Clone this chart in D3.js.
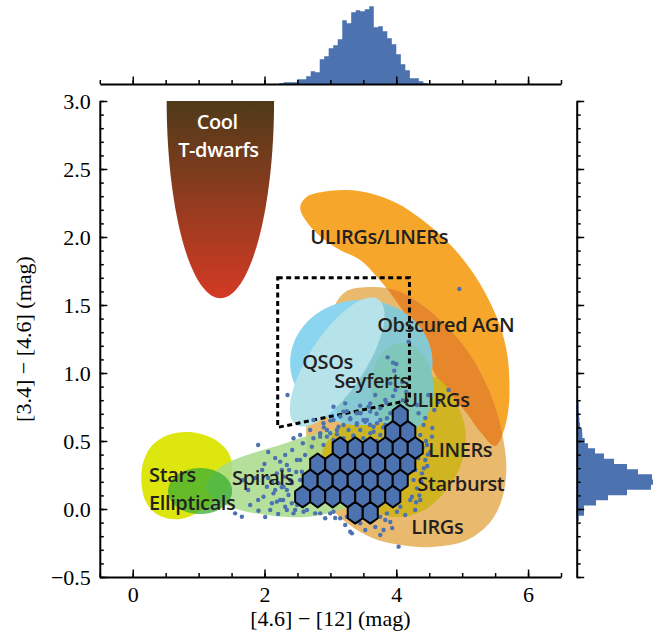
<!DOCTYPE html>
<html>
<head>
<meta charset="utf-8">
<script src="https://cdn.jsdelivr.net/npm/d3@7"></script>
<style>
  body { margin: 0; background: #fff; }
  .axis text { font-family: "Liberation Serif", "Times New Roman", serif; font-size: 22px; fill: #000; }
  .axis path, .axis line { stroke: #000; }
  .axis path { stroke-width: 2px; }
  .axis line { stroke-width: 1.5px; }
  .axis-title { font-family: "Liberation Serif", "Times New Roman", serif; font-size: 22px; fill: #000; }
  .region-label { font-family: "Open Sans", sans-serif; font-weight: 600; font-size: 20px; fill: #231f20; letter-spacing: -0.4px; }
</style>
</head>
<body>
<svg id="chart" width="668" height="638"></svg>
<script>
/////////////////////////////////////
///      DATA
/////////////////////////////////////

// tick values
var xMajor = [0, 2, 4, 6];
var yMajor = [-0.5, 0, 0.5, 1.0, 1.5, 2.0, 2.5, 3.0];

// marginal histogram of [4.6]-[12] (bin edges, counts)
var topBinEdges = [2.222, 2.290, 2.359, 2.427, 2.496, 2.564, 2.632, 2.701, 2.769, 2.838, 2.906, 2.974,
  3.043, 3.111, 3.180, 3.248, 3.316, 3.385, 3.453, 3.522, 3.590, 3.658, 3.727, 3.795, 3.864, 3.932,
  4.000, 4.069, 4.137, 4.206, 4.274, 4.342, 4.411, 4.479];
var topCounts = [2, 5, 5, 5, 14, 14, 23, 38, 35, 74, 83, 107, 116, 134, 191, 182, 215, 221, 218, 224,
  233, 170, 173, 158, 137, 119, 89, 59, 41, 17, 17, 8, 2];

// marginal histogram of [3.4]-[4.6]
var rightBinEdges = [-0.088, -0.050, -0.012, 0.026, 0.064, 0.102, 0.141, 0.179, 0.217, 0.255, 0.293,
  0.331, 0.369, 0.408, 0.446, 0.484, 0.522, 0.560, 0.598, 0.636, 0.674, 0.713, 0.751, 0.789];
var rightCounts = [6, 22, 22, 58, 94, 151, 223, 229, 226, 184, 151, 112, 82, 55, 34, 24, 17, 16, 10, 8, 7, 6, 6];

// filled hexbin cells (centres)
var hexCells = [
  [4.060, 0.686],
  [3.947, 0.567], [4.175, 0.567],
  [3.149, 0.448], [3.377, 0.448], [3.605, 0.448], [3.833, 0.448], [4.060, 0.448], [4.288, 0.448],
  [2.807, 0.329], [3.035, 0.329], [3.263, 0.329], [3.491, 0.329], [3.719, 0.329], [3.947, 0.329], [4.175, 0.329],
  [2.693, 0.210], [2.921, 0.210], [3.149, 0.210], [3.377, 0.210], [3.605, 0.210], [3.833, 0.210], [4.060, 0.210],
  [2.579, 0.091], [2.807, 0.091], [3.035, 0.091], [3.263, 0.091], [3.491, 0.091], [3.719, 0.091], [3.947, 0.091],
  [3.377, -0.028], [3.605, -0.028]
];

// individual sources outside the dense hexbin area
var sources = [
  [2.349,0.838],[3.225,0.777],[2.743,0.654],[3.403,0.704],[3.579,0.752],[3.757,0.740],[3.555,0.654],[3.707,0.630],
  [3.453,0.581],[3.275,0.581],[3.123,0.605],[2.997,0.557],[3.605,0.557],[3.757,0.544],[3.858,0.667],[4.338,0.704],
  [4.414,0.618],[4.364,0.544],[4.314,0.765],[4.794,0.875],[4.542,0.532],[4.466,0.471],[4.440,0.360],[4.390,0.262],
  [4.262,0.213],[4.314,0.152],[4.238,0.090],[4.288,-0.007],[4.060,0.017],[4.010,-0.020],[3.858,-0.032],[3.833,-0.081],
  [3.807,-0.154],[4.035,-0.277],[3.327,-0.179],[3.149,-0.068],[2.997,-0.032],[2.769,-0.032],[2.440,-0.032],[2.314,0.017],
  [2.339,0.324],[2.390,0.213],[2.288,0.164],[2.364,0.103],[2.617,0.397],[2.541,0.360],[2.719,0.458],[2.895,0.471],
  [3.047,0.507],[4.577,0.728],[4.957,1.618],[4.187,1.230],[3.868,1.115],[3.950,1.076],[4.000,1.066],[3.969,1.017],
  [3.909,0.924],[3.605,0.777],[1.999,0.331],[1.656,-0.057],[1.554,-0.032],[1.908,-0.013],[2.086,-0.007],[2.187,0.054],
  [2.582,0.483],[2.845,0.557],[3.047,0.752],[3.503,0.654],[2.947,0.532],[3.655,0.568],[3.301,-0.167],[2.643,-0.007],
  [2.845,-0.032],[2.288,0.238],[2.212,0.189],[2.136,0.115],[1.984,0.090],[2.415,0.189],[2.541,0.213],[2.263,0.287],
  [2.263,0.160],[2.339,0.140],[2.415,0.042],[2.339,-0.007],[2.238,0.348],[2.491,0.360],[2.567,0.274],[2.187,0.262],
  [2.112,0.201],[2.036,0.164],[2.238,0.066],[2.112,0.042],[2.465,-0.007],[2.592,-0.020],[2.921,-0.068],[3.047,-0.020],
  [3.351,-0.081],[3.453,-0.105],[3.251,-0.057],[3.605,-0.093],[3.757,-0.057],[4.516,0.419],[4.471,0.316],[4.334,0.375],
  [3.150,0.680],[3.300,0.660],[3.400,0.620],[3.600,0.620],[3.800,0.600],[3.880,0.520],[3.200,0.520],[3.350,0.540],
  [3.500,0.520],[3.700,0.500],[3.100,0.550],[2.900,0.600],[3.000,0.650],[3.250,0.720],[3.700,0.700],[3.450,0.760],
  [3.850,0.780],[3.950,0.830],[4.100,0.800],[4.150,0.860],[4.450,0.500],[4.400,0.450],[4.480,0.400],[4.420,0.300],
  [4.380,0.200],[4.350,0.100],[4.300,0.050],
  [3.457,0.704],[3.605,0.716],[3.529,0.642],[3.403,0.630],[3.301,0.667],[3.199,0.618],[3.099,0.581],[2.947,0.581],
  [2.845,0.532],[2.743,0.520],[3.655,0.605],[3.757,0.654],[3.833,0.618],[3.909,0.704],[3.985,0.716],[3.199,0.716],
  [3.047,0.654],[2.895,0.630],[2.693,0.581],[2.541,0.544],[2.440,0.520],[3.351,0.532],
  [1.903,0.471],[2.056,0.419],[2.162,0.375],[1.964,0.287],[1.858,0.228],[1.752,0.140],[1.903,0.066],[2.056,0.228],
  [2.420,0.434],[2.314,0.397],[2.481,0.272],[2.374,0.287],[2.541,0.103],[2.496,0.029],[2.207,-0.037],[2.010,-0.059],
  [1.782,0.029],[1.676,0.213],[2.162,0.140],[2.283,0.066],
  [4.243,0.507],[4.440,0.669],[4.547,0.596],[4.486,0.838],[4.638,0.787],[4.288,0.287],[4.212,0.066],[4.136,-0.044],
  [4.364,0.066],
  [3.073,-0.066],[3.225,-0.118],[3.529,-0.154],[3.681,-0.132],[3.909,-0.096],[3.757,-0.191],[3.938,-0.140],
  [3.681,0.838],[3.833,0.801],[3.985,0.875],[4.091,0.934]
];

// AGN selection box
var agnBox = [[2.2, 1.7], [4.2, 1.7], [4.2, 0.8], [2.2, 0.6]];

// region outlines
var bananaOutline = [[2.541,2.213],[2.643,2.296],[2.895,2.333],[3.251,2.346],[3.605,2.321],[4.010,2.248],[4.364,2.137],
  [4.718,1.990],[5.022,1.831],[5.326,1.610],[5.579,1.340],[5.681,1.145],[5.716,0.949],[5.701,0.728],[5.625,0.566],
  [5.503,0.463],[5.276,0.566],[5.078,0.699],[4.850,0.831],[4.622,0.963],[4.440,1.154],[4.212,1.375],[3.908,1.588],
  [3.706,1.708],[3.453,1.831],[3.099,1.917],[2.743,2.051]];
var tanOutline = [[3.225,1.596],[3.635,1.632],[4.030,1.603],[4.394,1.500],[4.774,1.338],[5.093,1.154],[5.336,0.949],
  [5.519,0.728],[5.625,0.507],[5.671,0.301],[5.610,0.081],[5.427,-0.096],[5.078,-0.228],[4.546,-0.279],[4.060,-0.265],
  [3.635,-0.213],[3.271,-0.110],[2.967,0.029],[2.769,0.213],[2.663,0.397],[2.633,0.596],[2.693,0.838],[2.815,1.132],[2.997,1.426]];
var oliveOutline = [[2.997,0.522],[3.301,0.691],[3.757,0.838],[4.212,0.949],[4.622,0.963],[4.926,0.765],[5.048,0.581],
  [5.018,0.382],[4.866,0.213],[4.622,0.066],[4.364,-0.022],[4.015,-0.059],[3.681,-0.022],[3.301,0.103],[2.997,0.287],[2.876,0.419]];
var spiralOutline = [[1.113,0.162],[1.250,0.272],[1.432,0.338],[1.827,0.412],[2.238,0.471],[2.648,0.537],[3.073,0.581],
  [3.529,0.596],[3.908,0.566],[4.060,0.471],[3.984,0.324],[3.681,0.140],[3.225,0.007],[2.769,-0.051],[2.344,-0.059],
  [1.827,-0.029],[1.478,0.015],[1.220,0.081]];
var starOutline = [[0.137,0.287],[0.263,0.449],[0.536,0.544],[0.870,0.566],[1.205,0.522],[1.448,0.419],[1.508,0.287],
  [1.402,0.140],[1.098,0.007],[0.719,-0.074],[0.384,-0.044],[0.187,0.066]];

// elliptical regions: centre and two conjugate semi-axes, data units
var dwarfEllipse = {cx: 1.33, cy: 3.0, ux: 0.815, uy: 0, vx: 0, vy: 1.45};
var qsoEllipse = {cx: 3.468, cy: 1.077, ux: 1.079, uy: 0, vx: 0, vy: 0.460};
var tealEllipse = {cx: 3.985, cy: 1.007, ux: 1.003, uy: 0, vx: 0, vy: 0.625};
var paleEllipse = {cx: 3.103, cy: 1.081, ux: 0.624, uy: 0.461, vx: 0.356, vy: -0.113};
var seyfertEllipse = {cx: 4.091, cy: 0.890, ux: 0.471, uy: 0, vx: 0, vy: 0.331};
var ellipticalEllipse = {cx: 1.022, cy: 0.132, ux: 0.486, uy: 0, vx: 0, vy: 0.169};

// region labels
var labelNames = ["Cool", "T-dwarfs", "ULIRGs/LINERs", "Obscured AGN", "QSOs", "Seyferts", "ULIRGs",
  "LINERs", "Starburst", "LIRGs", "Stars", "Ellipticals", "Spirals"];
var labelX = [1.283, 1.301, 2.695, 3.711, 2.572, 3.057, 4.104, 4.486, 4.319, 4.227, 0.248, 0.248, 1.508];
var labelY = [2.792, 2.590, 1.949, 1.304, 1.030, 0.890, 0.752, 0.380, 0.132, -0.184, 0.201, -0.007, 0.176];

/////////////////////////////////////
///      LAYOUT
/////////////////////////////////////

var blue = "#4c72b0";
var hexW = 0.228, hexH = 0.238;

var svg = d3.select("#chart");
var x = d3.scaleLinear().domain([-0.5, 6.5]).range([99.8, 561]);
var y = d3.scaleLinear().domain([-0.5, 3.0]).range([577, 101]);

var defs = svg.append("defs");
defs.append("clipPath").attr("id", "plotClip")
    .append("rect").attr("x", x(-0.5)).attr("y", y(3.0))
    .attr("width", x(6.5) - x(-0.5)).attr("height", y(-0.5) - y(3.0));

var grad = defs.append("linearGradient").attr("id", "dwarfGrad")
    .attr("gradientUnits", "userSpaceOnUse")
    .attr("x1", 0).attr("x2", 0).attr("y1", y(3.0)).attr("y2", y(1.55));
[["0%", "#4f3a19"], ["35%", "#7b3c1d"], ["70%", "#ac3b21"], ["100%", "#d43a24"]].forEach(function(s) {
  grad.append("stop").attr("offset", s[0]).attr("stop-color", s[1]);
});

function ellipsePoints(e) {
  return d3.range(0, 2 * Math.PI, Math.PI / 72).map(function(t) {
    return [e.cx + e.ux * Math.cos(t) + e.vx * Math.sin(t),
            e.cy + e.uy * Math.cos(t) + e.vy * Math.sin(t)];
  });
}
var polyLine = d3.line().x(function(d) { return x(d[0]); }).y(function(d) { return y(d[1]); })
    .curve(d3.curveLinearClosed);
var smoothLine = d3.line().x(function(d) { return x(d[0]); }).y(function(d) { return y(d[1]); })
    .curve(d3.curveCatmullRomClosed.alpha(0.5));

defs.append("clipPath").attr("id", "bananaClip").append("path").attr("d", smoothLine(bananaOutline));
defs.append("clipPath").attr("id", "qsoClip").append("path").attr("d", polyLine(ellipsePoints(qsoEllipse)));

/////////////////////////////////////
///      REGIONS
/////////////////////////////////////

var plot = svg.append("g").attr("clip-path", "url(#plotClip)");

plot.append("path").attr("d", polyLine(ellipsePoints(dwarfEllipse))).attr("fill", "url(#dwarfGrad)");
plot.append("path").attr("d", smoothLine(bananaOutline)).attr("fill", "#f6a72b");
plot.append("path").attr("d", smoothLine(tanOutline)).attr("fill", "#e9ba6d");
plot.append("path").attr("d", smoothLine(tanOutline)).attr("fill", "#e5872a")
    .attr("clip-path", "url(#bananaClip)");
plot.append("path").attr("d", smoothLine(starOutline)).attr("fill", "#dde70f");
plot.append("path").attr("d", smoothLine(spiralOutline)).attr("fill", "#a7db89").attr("fill-opacity", 0.85);
plot.append("path").attr("d", smoothLine(oliveOutline)).attr("fill", "#cdb31c").attr("fill-opacity", 0.92);
plot.append("path").attr("d", polyLine(ellipsePoints(qsoEllipse))).attr("fill", "#8bd5f1");
plot.append("path").attr("d", polyLine(ellipsePoints(tealEllipse))).attr("fill", "#87c9d2")
    .attr("clip-path", "url(#qsoClip)");
plot.append("path").attr("d", polyLine(ellipsePoints(paleEllipse))).attr("fill", "#b6e2ea");
plot.append("path").attr("d", polyLine(ellipsePoints(seyfertEllipse))).attr("fill", "#7fc6bb");
plot.append("path").attr("d", polyLine(ellipsePoints(ellipticalEllipse))).attr("fill", "#3aae32")
    .attr("fill-opacity", 0.75);

// AGN box
plot.append("path").attr("d", polyLine(agnBox))
    .attr("fill", "none").attr("stroke", "#000").attr("stroke-width", 3)
    .attr("stroke-dasharray", "5,3.5");

// sources
plot.append("g").selectAll("circle").data(sources).enter().append("circle")
    .attr("cx", function(d) { return x(d[0]); })
    .attr("cy", function(d) { return y(d[1]); })
    .attr("r", 2.2).attr("fill", blue);

// hexbins
var hexOffsets = [[hexW / 2, -hexH / 6], [hexW / 2, hexH / 6], [0, hexH / 3],
                  [-hexW / 2, hexH / 6], [-hexW / 2, -hexH / 6], [0, -hexH / 3]];
plot.append("g").selectAll("path").data(hexCells).enter().append("path")
    .attr("d", function(c) {
      return polyLine(hexOffsets.map(function(o) { return [c[0] + o[0], c[1] + o[1]]; }));
    })
    .attr("fill", blue).attr("stroke", "#000").attr("stroke-width", 2)
    .attr("stroke-linejoin", "round");

// labels
plot.append("g").selectAll("text").data(labelNames).enter().append("text")
    .attr("class", "region-label")
    .attr("x", function(d, i) { return x(labelX[i]); })
    .attr("y", function(d, i) { return y(labelY[i]); })
    .attr("text-anchor", function(d, i) { return i < 2 ? "middle" : "start"; })
    .style("fill", function(d, i) { return i < 2 ? "#fff" : null; })
    .text(function(d) { return d; });

/////////////////////////////////////
///      AXES
/////////////////////////////////////

function addAxis(axisFn, scale, major, transform, labels) {
  var g = svg.append("g").attr("class", "axis").attr("transform", transform);
  g.call(axisFn(scale).tickValues(scale.ticks(axisFn === d3.axisLeft ? 35 : 14))
      .tickSize(-4).tickSizeOuter(0).tickFormat(""));
  var gm = svg.append("g").attr("class", "axis").attr("transform", transform);
  gm.call(axisFn(scale).tickValues(major).tickSize(-7.5).tickSizeOuter(0).tickPadding(9)
      .tickFormat(labels ? (axisFn === d3.axisLeft ? d3.format(".1f") : d3.format("d")) : ""));
  gm.select(".domain").remove();
}

addAxis(d3.axisLeft, y, yMajor, "translate(" + x(-0.5) + ",0)", true);
addAxis(d3.axisBottom, x, xMajor, "translate(0," + y(-0.5) + ")", true);

svg.append("text").attr("class", "axis-title")
    .attr("x", (x(-0.5) + x(6.5)) / 2).attr("y", 626).attr("text-anchor", "middle")
    .text("[4.6] \u2212 [12] (mag)");
svg.append("text").attr("class", "axis-title")
    .attr("transform", "translate(31," + (y(-0.5) + y(3.0)) / 2 + ") rotate(-90)")
    .attr("text-anchor", "middle")
    .text("[3.4] \u2212 [4.6] (mag)");

// top marginal histogram (single stepped shape, no seams)
var topBase = 84;
var hTop = d3.scaleLinear().domain([0, d3.max(topCounts) * 1.05]).range([topBase, 2.4]);
var topSteps = topBinEdges.map(function(e, i) { return [e, i < topCounts.length ? topCounts[i] : 0]; });
svg.append("path").datum(topSteps)
    .attr("d", d3.area().x(function(d) { return x(d[0]); })
        .y0(topBase).y1(function(d) { return hTop(d[1]); })
        .curve(d3.curveStepAfter))
    .attr("fill", blue);
addAxis(d3.axisBottom, x, xMajor, "translate(0," + topBase + ")", false);

// right marginal histogram
var rightBase = 576.7;
var hRight = d3.scaleLinear().domain([0, d3.max(rightCounts) * 1.05]).range([rightBase, 656.8]);
var rightSteps = rightBinEdges.map(function(e, i) { return [e, i < rightCounts.length ? rightCounts[i] : 0]; });
svg.append("path").datum(rightSteps)
    .attr("d", d3.area().y(function(d) { return y(d[0]); })
        .x0(rightBase).x1(function(d) { return hRight(d[1]); })
        .curve(d3.curveStepBefore))
    .attr("fill", blue);
addAxis(d3.axisLeft, y, yMajor, "translate(" + rightBase + ",0)", false);
</script>
</body>
</html>
